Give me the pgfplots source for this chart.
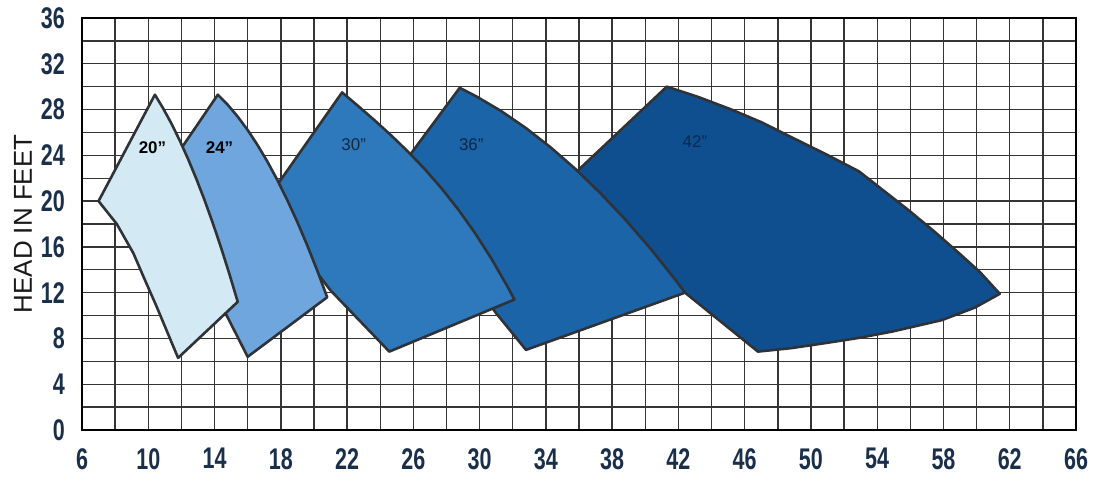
\documentclass[border=0pt]{standalone}
\usepackage{fontspec}
\setmainfont{Liberation Sans}
\newfontfamily\tickfont{Liberation Sans}[FakeStretch=0.72]
\usepackage{pgfplots}
\pgfplotsset{compat=1.18}
\definecolor{cA}{HTML}{D3E9F3}
\definecolor{cB}{HTML}{6FA6DD}
\definecolor{cC}{HTML}{2E78BC}
\definecolor{cD}{HTML}{1B64A8}
\definecolor{cE}{HTML}{0F4F8F}
\definecolor{edge}{HTML}{2F3338}
\definecolor{tickcol}{HTML}{1A2F4A}
\definecolor{gridcol}{HTML}{353535}
\begin{document}
\begin{tikzpicture}
\begin{axis}[
  scale only axis, width=994bp, height=412bp,
  xmin=6, xmax=66, ymin=0, ymax=36,
  xtick={6,10,...,66}, ytick={0,4,...,36},
  minor xtick={8,12,...,64}, minor ytick={2,6,...,34},
  grid=both,
  major grid style={gridcol, line width=1.4bp},
  minor grid style={gridcol, line width=1.4bp},
  major tick length=0pt, minor tick length=0pt,
  axis line style={line width=2.6bp, black},
  /pgf/number format/assume math mode=true,
  tick label style={font=\tickfont\bfseries\fontsize{30}{30}\selectfont, text=tickcol},
  xticklabel style={inner sep=0pt, anchor=north, yshift=-18bp},
  yticklabel style={inner sep=0pt, anchor=east, xshift=-17bp},
  ylabel={HEAD IN FEET},
  ylabel style={at={(axis description cs:-0.0594,0.5)}, anchor=center, font=\fontsize{26}{26}\selectfont, text=black!90},
  every axis plot/.append style={draw=edge, line width=2.6bp, line join=round},
]
% 42"
\addplot[fill=cE] coordinates {(34.7,21.0) (41.3,30.0) (43.2,29.1) (45.2,28.0) (47.0,26.9) (48.8,25.6) (50.9,24.1) (52.9,22.6) (54.4,20.9) (55.9,19.2) (57.4,17.4) (58.9,15.5) (60.2,13.8) (61.4,11.9) (59.9,10.7) (57.9,9.6) (54.9,8.6) (52.9,8.05) (50.9,7.6) (48.8,7.15) (46.8,6.85) (42.4,12.0) (38.5,16.8)} -- cycle;
% 36"
\addplot[fill=cD] coordinates {(24.6,21.7) (28.8,29.9) (29.8,29.15) (31.3,27.87) (32.8,26.38) (34.3,24.68) (35.8,22.79) (37.3,20.68) (38.8,18.38) (40.3,15.87) (41.8,13.16) (42.4,12.0) (32.8,7.0) (31.0,10.2) (28.3,15.5)} -- cycle;
% 30"
\addplot[fill=cC] coordinates {(17.0,19.8) (21.7,29.5) (22.7,28.27) (23.7,27.01) (24.7,25.69) (25.7,24.29) (26.7,22.78) (27.7,21.12) (28.7,19.29) (29.7,17.26) (30.7,15.0) (31.7,12.49) (32.1,11.4) (24.55,6.85) (21.0,12.2) (19.0,16.0)} -- cycle;
% 24"
\addplot[fill=cB] coordinates {(11.0,22.5) (14.2,29.3) (14.8,28.41) (15.4,27.38) (16.0,26.21) (16.6,24.89) (17.2,23.43) (17.8,21.82) (18.4,20.06) (19.0,18.17) (19.6,16.12) (20.2,13.93) (20.8,11.6) (16.0,6.4) (14.7,10.1) (13.3,15.5) (12.0,19.5)} -- cycle;
% 20"
\addplot[fill=cA] coordinates {(7.0,20.0) (10.4,29.3) (10.9,28.1) (11.4,26.77) (11.9,25.3) (12.4,23.69) (12.9,21.95) (13.4,20.08) (13.9,18.06) (14.4,15.91) (14.9,13.62) (15.4,11.2) (11.8,6.3) (11.15,8.55) (10.5,10.8) (9.8,13.1) (9.1,15.45) (8.1,18.0)} -- cycle;
\node[font=\bfseries\fontsize{17}{17}\selectfont, text=black] at (axis cs:10.25,24.7) {20”};
\node[font=\bfseries\fontsize{17}{17}\selectfont, text=black] at (axis cs:14.3,24.7) {24”};
\node[font=\fontsize{17}{17}\selectfont, text=black!65!cC] at (axis cs:22.4,24.9) {30”};
\node[font=\fontsize{17}{17}\selectfont, text=black!60!cD] at (axis cs:29.5,24.9) {36”};
\node[font=\fontsize{17}{17}\selectfont, text=black!45!cE] at (axis cs:43.0,25.2) {42”};
\end{axis}
\pgfresetboundingbox
\path[use as bounding box] (-82bp,-53bp) rectangle (1012bp,430bp);
\end{tikzpicture}
\end{document}
